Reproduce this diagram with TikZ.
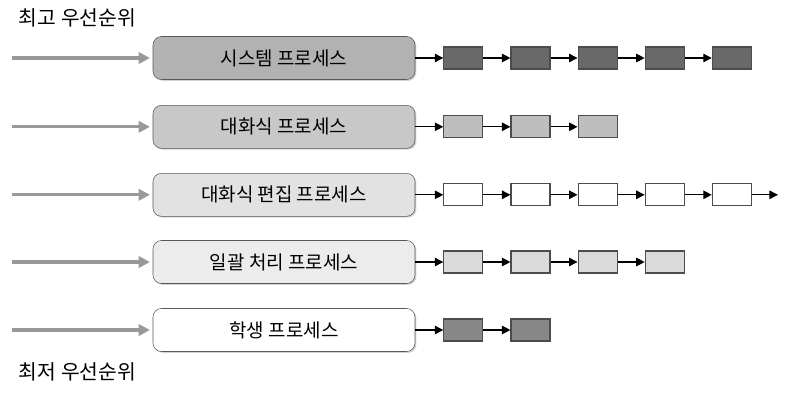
\documentclass[tikz,border=0pt]{standalone}
\usepackage{fontspec}
\setmainfont{Noto Sans CJK KR}
\usetikzlibrary{arrows.meta,positioning,shadows}

\definecolor{sysbox}{RGB}{178,178,178}
\definecolor{sysq}{RGB}{105,105,105}
\definecolor{talkbox}{RGB}{200,200,200}
\definecolor{talkq}{RGB}{190,190,190}
\definecolor{editbox}{RGB}{226,226,226}
\definecolor{editq}{RGB}{255,255,255}
\definecolor{batchbox}{RGB}{236,236,236}
\definecolor{batchq}{RGB}{218,218,218}
\definecolor{stdbox}{RGB}{255,255,255}
\definecolor{stdq}{RGB}{135,135,135}

\begin{document}
\begin{tikzpicture}[
    node distance=0.675cm,
    proc/.style={draw=black!65,rounded corners=6pt,minimum width=6.55cm,
        minimum height=1.075cm,font=\fontsize{13.5}{15}\selectfont,
        drop shadow={opacity=0.35,shadow xshift=1pt,shadow yshift=-1pt}},
    item/.style={draw=black!70,thick,minimum width=0.975cm,minimum height=0.55cm,inner sep=0pt},
    link/.style={-{Triangle[length=6pt,width=6pt]},line width=0.9pt},
    feed/.style={-{Triangle[length=8pt,width=8pt]},line width=2.2pt,black!40},
    prio/.style={anchor=west,font=\fontsize{14.5}{16}\selectfont},
]

\useasboundingbox (0,0) rectangle (19.75,-9.95);

%----------------------------------
% Priority labels
%----------------------------------

\node[prio] (high) at (0.35,-0.45) {최고 우선순위};
\node[prio] (low) at (0.35,-9.3) {최저 우선순위};

%----------------------------------
% Process classes
%----------------------------------

\node[proc,fill=sysbox] (sys) at (7.1,-1.45) {시스템 프로세스};
\node[proc,fill=talkbox] (talk) at (7.1,-3.17) {대화식 프로세스};
\node[proc,fill=editbox] (edit) at (7.1,-4.87) {대화식 편집 프로세스};
\node[proc,fill=batchbox] (batch) at (7.1,-6.55) {일괄 처리 프로세스};
\node[proc,fill=stdbox] (std) at (7.1,-8.25) {학생 프로세스};

\foreach \q in {sys,talk,edit,batch,std} {
    \coordinate (\q in) at (0.3,0 |- \q.west);
    \draw[feed] (\q in) -- ([xshift=-2pt]\q.west);
}

%----------------------------------
% Queues
%----------------------------------

\node[item,fill=sysq,right=0.7cm of sys] (sys1) {};
\foreach \i [count=\j from 2] in {1,...,4}
    \node[item,fill=sysq,right=of sys\i] (sys\j) {};

\node[item,fill=talkq,right=0.7cm of talk] (talk1) {};
\foreach \i [count=\j from 2] in {1,2}
    \node[item,fill=talkq,right=of talk\i] (talk\j) {};

\node[item,fill=editq,right=0.7cm of edit] (edit1) {};
\foreach \i [count=\j from 2] in {1,...,4}
    \node[item,fill=editq,right=of edit\i] (edit\j) {};
\coordinate[right=0.65cm of edit5] (editend);

\node[item,fill=batchq,right=0.7cm of batch] (batch1) {};
\foreach \i [count=\j from 2] in {1,...,3}
    \node[item,fill=batchq,right=of batch\i] (batch\j) {};

\node[item,fill=stdq,right=0.7cm of std] (std1) {};
\node[item,fill=stdq,right=of std1] (std2) {};

\draw[link] (sys) -- (sys1);
\foreach \i [count=\j from 2] in {1,...,4}
    \draw[link] (sys\i) -- (sys\j);

\draw[link] (talk) -- (talk1);
\foreach \i [count=\j from 2] in {1,2}
    \draw[link] (talk\i) -- (talk\j);

\draw[link] (edit) -- (edit1);
\foreach \i [count=\j from 2] in {1,...,4}
    \draw[link] (edit\i) -- (edit\j);
\draw[link] (edit5) -- (editend);

\draw[link] (batch) -- (batch1);
\foreach \i [count=\j from 2] in {1,...,3}
    \draw[link] (batch\i) -- (batch\j);

\draw[link] (std) -- (std1);
\draw[link] (std1) -- (std2);

\end{tikzpicture}
\end{document}
